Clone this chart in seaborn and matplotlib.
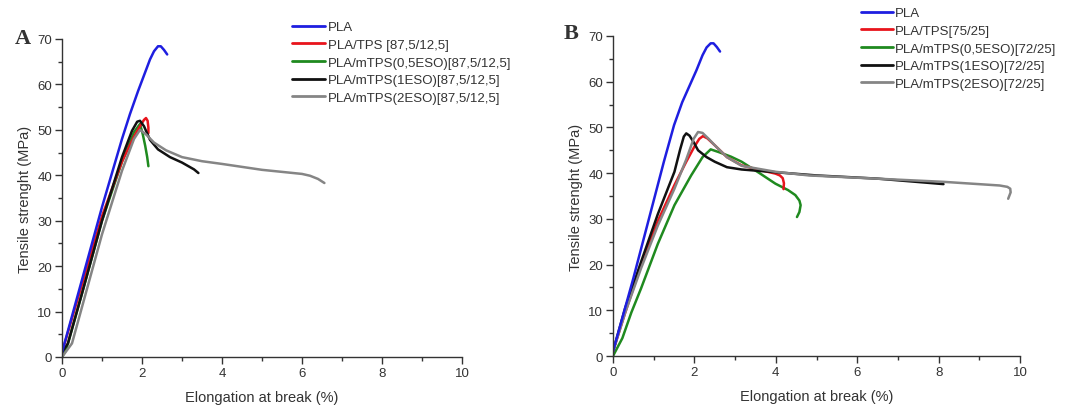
import numpy as np
import pandas as pd
import matplotlib
matplotlib.use("Agg")
import matplotlib.pyplot as plt
import seaborn as sns
from matplotlib.ticker import MultipleLocator

# ---------------- data ----------------
labels_a = ["PLA", "PLA/TPS [87,5/12,5]", "PLA/mTPS(0,5ESO)[87,5/12,5]",
            "PLA/mTPS(1ESO)[87,5/12,5]", "PLA/mTPS(2ESO)[87,5/12,5]"]
labels_b = ["PLA", "PLA/TPS[75/25]", "PLA/mTPS(0,5ESO)[72/25]",
            "PLA/mTPS(1ESO)[72/25]", "PLA/mTPS(2ESO)[72/25]"]
colors = ["#1e1ee0", "#e8141c", "#1f8a1f", "#111111", "#858585"]

# Panel A
a_pla_x = [0.0, 0.25, 0.5, 0.75, 1.0, 1.25, 1.5, 1.7, 1.9, 2.05, 2.2, 2.3, 2.4, 2.47, 2.55, 2.63]
a_pla_y = [1.0, 9.0, 17.0, 25.0, 33.0, 40.5, 48.0, 53.5, 58.5, 62.0, 65.5, 67.3, 68.4, 68.4, 67.6, 66.6]
a_tps_x = [0.0, 0.25, 0.5, 1.0, 1.5, 1.8, 1.95, 2.05, 2.1, 2.14, 2.16, 2.16]
a_tps_y = [1.0, 8.5, 16.0, 31.0, 43.0, 48.5, 50.8, 52.2, 52.6, 52.0, 50.5, 49.3]
a_m05_x = [0.0, 0.1, 0.5, 1.0, 1.5, 1.8, 1.95, 2.02, 2.08, 2.13, 2.16]
a_m05_y = [0.0, 1.5, 14.0, 30.0, 43.0, 49.5, 51.3, 49.0, 46.5, 44.0, 42.0]
a_m1_x = [0.0, 0.15, 0.5, 1.0, 1.5, 1.75, 1.88, 1.95, 2.05, 2.2, 2.4, 2.7, 3.0, 3.3, 3.41]
a_m1_y = [1.0, 3.0, 14.0, 30.0, 44.0, 49.8, 51.8, 52.0, 50.8, 47.8, 45.7, 44.0, 42.8, 41.3, 40.5]
a_m2_x = [0.0, 0.25, 0.5, 1.0, 1.5, 1.8, 1.95, 2.1, 2.3, 2.6, 3.0, 3.5, 4.0, 5.0, 6.0, 6.2, 6.4, 6.56]
a_m2_y = [0.0, 3.0, 11.0, 27.0, 41.0, 48.0, 50.0, 49.0, 47.2, 45.5, 44.0, 43.1, 42.5, 41.2, 40.3, 39.9, 39.2, 38.3]

# Panel B
b_pla_x = [0.0, 0.25, 0.5, 0.75, 1.0, 1.25, 1.5, 1.7, 1.9, 2.05, 2.2, 2.3, 2.4, 2.47, 2.55, 2.63]
b_pla_y = [1.0, 9.0, 17.0, 25.5, 34.0, 42.5, 50.5, 55.5, 59.5, 62.5, 65.8, 67.5, 68.4, 68.4, 67.6, 66.6]
b_tps_x = [0.0, 0.3, 0.69, 1.1, 1.51, 1.8, 2.0, 2.12, 2.21, 2.32, 2.5, 2.8, 3.16, 3.6, 3.99, 4.1, 4.17, 4.2, 4.19]
b_tps_y = [1.0, 9.5, 19.9, 29.5, 37.4, 42.5, 45.8, 47.5, 48.1, 47.6, 46.1, 43.5, 41.7, 40.7, 39.9, 39.5, 38.9, 37.8, 36.5]
b_m05_x = [0.0, 0.23, 0.45, 0.69, 1.1, 1.51, 1.92, 2.2, 2.4, 2.6, 2.9, 3.16, 3.6, 3.99, 4.3, 4.48, 4.58, 4.61, 4.58, 4.52]
b_m05_y = [0.0, 3.9, 9.5, 14.8, 24.5, 33.0, 39.5, 43.5, 45.2, 44.6, 43.6, 42.5, 40.0, 37.7, 36.3, 35.2, 34.0, 33.0, 31.5, 30.4]
b_m1_x = [0.0, 0.3, 0.69, 1.1, 1.51, 1.65, 1.74, 1.8, 1.88, 1.98, 2.09, 2.3, 2.5, 2.8, 3.16, 4.0, 5.0, 6.5, 8.12]
b_m1_y = [1.0, 10.5, 20.6, 31.0, 40.3, 45.2, 48.0, 48.7, 48.2, 46.8, 45.0, 43.5, 42.5, 41.3, 40.8, 40.2, 39.5, 38.8, 37.6]
b_m2_x = [0.0, 0.3, 0.69, 1.1, 1.51, 1.8, 1.98, 2.09, 2.2, 2.35, 2.5, 2.8, 3.16, 3.99, 4.81, 6.47, 8.12, 9.5, 9.69, 9.76, 9.77, 9.71]
b_m2_y = [1.0, 9.5, 19.2, 28.5, 36.6, 43.0, 47.5, 49.0, 48.8, 47.5, 46.1, 43.5, 41.6, 40.3, 39.5, 38.8, 38.1, 37.3, 37.0, 36.6, 35.8, 34.4]

series_a = [(a_pla_x, a_pla_y), (a_tps_x, a_tps_y), (a_m05_x, a_m05_y),
            (a_m1_x, a_m1_y), (a_m2_x, a_m2_y)]
series_b = [(b_pla_x, b_pla_y), (b_tps_x, b_tps_y), (b_m05_x, b_m05_y),
            (b_m1_x, b_m1_y), (b_m2_x, b_m2_y)]


def build_df(series, labels):
    frames = []
    for (x, y), lab in zip(series, labels):
        frames.append(pd.DataFrame({"x": x, "y": y, "sample": lab}))
    return pd.concat(frames, ignore_index=True)


sns.set_theme(style="white")
plt.rcParams["font.family"] = ["Liberation Sans", "DejaVu Sans"]

fig = plt.figure(figsize=(10.65, 4.14), dpi=100)
ax_a = fig.add_axes([62 / 1065, 1 - 358 / 414, 400 / 1065, 318 / 414])
ax_b = fig.add_axes([613 / 1065, 1 - 357 / 414, 407 / 1065, 320 / 414])

draw_order = [2, 1, 3, 4, 0]  # green, red, black, gray, then blue on top


def draw(ax, series, labels, letter, letter_pos, leg_anchor, handlelen):
    df = build_df(series, labels)
    palette = dict(zip(labels, colors))
    for i in draw_order:
        lab = labels[i]
        sub = df[df["sample"] == lab]
        sns.lineplot(data=sub, x="x", y="y", sort=False, estimator=None,
                     color=palette[lab], linewidth=1.8, ax=ax, legend=False)
    ax.set_xlim(0, 10)
    ax.set_ylim(0, 70)
    ax.xaxis.set_major_locator(MultipleLocator(2))
    ax.xaxis.set_minor_locator(MultipleLocator(1))
    ax.yaxis.set_major_locator(MultipleLocator(10))
    ax.yaxis.set_minor_locator(MultipleLocator(5))
    for s in ["top", "right"]:
        ax.spines[s].set_visible(False)
    for s in ["left", "bottom"]:
        ax.spines[s].set_color("#333333")
        ax.spines[s].set_linewidth(1.0)
    ax.tick_params(which="major", direction="out", length=5, width=1,
                   color="#333333", labelsize=9.5, labelcolor="#333333", pad=2,
                   bottom=True, left=True)
    ax.tick_params(which="minor", direction="out", length=3, width=1,
                   color="#333333", bottom=True, left=True)
    ax.set_xlabel("Elongation at break (%)", fontsize=10.5, color="#333333",
                  labelpad=8)
    ax.set_ylabel("Tensile strenght (MPa)", fontsize=10.5, color="#333333",
                  labelpad=4)
    fig.text(letter_pos[0], letter_pos[1], letter, fontsize=16,
             fontfamily="Liberation Serif", fontweight="bold", color="#333333",
             ha="left", va="center")
    handles = [plt.Line2D([], [], color=c, linewidth=2) for c in colors]
    fig.legend(handles, labels, loc="upper left", bbox_to_anchor=leg_anchor,
               frameon=False, fontsize=9.5, handlelength=handlelen,
               handletextpad=0.2, labelspacing=0.41, borderaxespad=0,
               borderpad=0, labelcolor="#333333")


draw(ax_a, series_a, labels_a, "A", (15 / 1065, 1 - 39 / 414),
     (292 / 1065, 1 - 22 / 414), 2.5)
draw(ax_b, series_b, labels_b, "B", (564 / 1065, 1 - 34 / 414),
     (861 / 1065, 1 - 8 / 414), 2.4)

fig.savefig("out.png", dpi=100)
